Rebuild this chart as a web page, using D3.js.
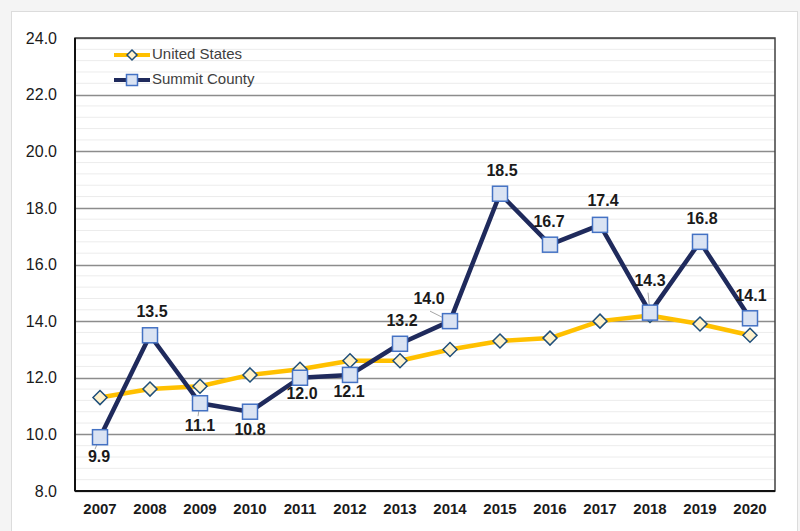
<!DOCTYPE html>
<html>
<head>
<meta charset="utf-8">
<script src="https://cdn.jsdelivr.net/npm/d3@7"></script>
<style>
  body { margin: 0; background: #f4f4f4; }
  svg { display: block; font-family: Arial, "Liberation Sans", sans-serif; }
</style>
</head>
<body>
<svg id="chart" width="800" height="531"></svg>
<script>
const years = ['2007','2008','2009','2010','2011','2012','2013','2014','2015','2016','2017','2018','2019','2020']
const usValues = [11.3, 11.6, 11.7, 12.1, 12.3, 12.6, 12.6, 13.0, 13.3, 13.4, 14.0, 14.2, 13.9, 13.5]
const summitValues = [9.9, 13.5, 11.1, 10.8, 12.0, 12.1, 13.2, 14.0, 18.5, 16.7, 17.4, 14.3, 16.8, 14.1]
const yTicks = [8, 10, 12, 14, 16, 18, 20, 22, 24]
const seriesNames = ['United States', 'Summit County']

// label offsets for summit data labels (dx, dy)
const labelPos = [
  [-1, 21], [2, -23], [0, 24], [0, 19], [2, 17], [-1, 18],
  [2, -22], [-21, -21], [2, -22], [-1, -22], [3, -23],
  [0, -31], [2, -22], [1, -22]
]
// leader lines: index, end offset (dx, dy) from the point
const leaders = [[0, -5, 12], [2, -2, 13], [7, -20, -10], [11, -2, -20]]

const svg = d3.select('#chart')
const margin = {left: 75, right: 25, top: 38, bottom: 40}
const plotW = 775 - margin.left
const plotH = 491 - margin.top

// outer panel
svg.append('rect')
  .attr('x', 11.5).attr('y', 11.5)
  .attr('width', 786).attr('height', 540)
  .attr('fill', '#fff')
  .attr('stroke', '#dcdcdc')

const g = svg.append('g').attr('transform', `translate(${margin.left},${margin.top})`)

const x = d3.scaleBand().domain(years).range([0, plotW])
const y = d3.scaleLinear().domain([8, 24]).range([plotH, 0])

// minor grid
const minor = d3.range(8, 24.001, 0.4).filter(v => Math.abs(v / 2 - Math.round(v / 2)) > 0.01)
g.selectAll('.minor').data(minor).enter().append('line')
  .attr('x1', 0).attr('x2', plotW)
  .attr('y1', d => y(d)).attr('y2', d => y(d))
  .attr('stroke', '#ececec').attr('stroke-width', 1)

// major grid
g.selectAll('.major').data(yTicks).enter().append('line')
  .attr('x1', 0).attr('x2', plotW)
  .attr('y1', d => Math.round(y(d)) + 0.5).attr('y2', d => Math.round(y(d)) + 0.5)
  .attr('stroke', '#8c8c8c').attr('stroke-width', 1.3)

// plot border
g.append('rect')
  .attr('x', 0).attr('y', 0).attr('width', plotW).attr('height', plotH)
  .attr('fill', 'none').attr('stroke', '#404040').attr('stroke-width', 1.5)
g.append('line').attr('x1', 0).attr('x2', plotW).attr('y1', plotH).attr('y2', plotH)
  .attr('stroke', '#111').attr('stroke-width', 2)
g.append('line').attr('x1', 0).attr('x2', 0).attr('y1', 0).attr('y2', plotH)
  .attr('stroke', '#111').attr('stroke-width', 2)

// y axis labels
const yAxis = g.append('g').call(d3.axisLeft(y).tickValues(yTicks).tickFormat(d3.format('.1f')).tickSize(0).tickPadding(18))
yAxis.select('.domain').remove()
yAxis.selectAll('text').attr('font-size', 16).attr('fill', '#1a1a1a').attr('font-family', 'Arial, "Liberation Sans", sans-serif')

// x axis labels
const xAxis = g.append('g').attr('transform', `translate(0,${plotH})`)
  .call(d3.axisBottom(x).tickSize(0).tickPadding(12))
xAxis.select('.domain').remove()
xAxis.selectAll('text').attr('font-size', 15).attr('font-weight', 'bold').attr('fill', '#1a1a1a')
  .attr('font-family', 'Arial, "Liberation Sans", sans-serif')

const cx = i => x(years[i]) + x.bandwidth() / 2
const line = d3.line().x((d, i) => cx(i)).y(d => y(d))

// US line
g.append('path').datum(usValues).attr('d', line)
  .attr('fill', 'none').attr('stroke', '#ffc000').attr('stroke-width', 4.5).attr('stroke-linejoin', 'round')

// Summit line
g.append('path').datum(summitValues).attr('d', line)
  .attr('fill', 'none').attr('stroke', '#1f2a5c').attr('stroke-width', 4.5).attr('stroke-linejoin', 'round')

// US diamonds
const diamond = s => `M0,${-s}L${s},0L0,${s}L${-s},0Z`
g.selectAll('.usm').data(usValues).enter().append('path')
  .attr('d', diamond(7))
  .attr('transform', (d, i) => `translate(${cx(i)},${y(d)})`)
  .attr('fill', '#fff2cc').attr('stroke', '#1f4e79').attr('stroke-width', 1.5)

// leader lines
g.selectAll('.leader').data(leaders).enter().append('line')
  .attr('x1', d => cx(d[0])).attr('y1', d => y(summitValues[d[0]]))
  .attr('x2', d => cx(d[0]) + d[1]).attr('y2', d => y(summitValues[d[0]]) + d[2])
  .attr('stroke', '#a6a6a6').attr('stroke-width', 1)

// Summit squares
g.selectAll('.sm').data(summitValues).enter().append('rect')
  .attr('x', (d, i) => cx(i) - 7.5).attr('y', d => y(d) - 7.5)
  .attr('width', 15).attr('height', 15)
  .attr('fill', '#dae3f3').attr('stroke', '#4472c4').attr('stroke-width', 1.5)

// data labels
g.selectAll('.lbl').data(summitValues).enter().append('text')
  .attr('x', (d, i) => cx(i) + labelPos[i][0])
  .attr('y', (d, i) => y(d) + labelPos[i][1])
  .attr('text-anchor', 'middle').attr('dominant-baseline', 'middle')
  .attr('font-size', 16).attr('font-weight', 'bold').attr('fill', '#1a1a1a')
  .text(d => d.toFixed(1))

// legend
const legend = g.append('g').attr('transform', 'translate(39,17)')
const legItems = legend.selectAll('g').data(seriesNames).enter().append('g')
  .attr('transform', (d, i) => `translate(0,${i * 25})`)
legItems.append('line').attr('x1', 0).attr('x2', 36).attr('y1', 0).attr('y2', 0)
  .attr('stroke', (d, i) => i === 0 ? '#ffc000' : '#1f2a5c').attr('stroke-width', 4)
legItems.filter((d, i) => i === 0).append('path').attr('d', diamond(5))
  .attr('transform', 'translate(18,0)')
  .attr('fill', '#fff2cc').attr('stroke', '#1f4e79').attr('stroke-width', 1.5)
legItems.filter((d, i) => i === 1).append('rect')
  .attr('x', 12.5).attr('y', -5.5).attr('width', 11).attr('height', 11)
  .attr('fill', '#dae3f3').attr('stroke', '#4472c4').attr('stroke-width', 1.5)
legItems.append('text').attr('x', 38).attr('y', 0).attr('dominant-baseline', 'middle')
  .attr('font-size', 15).attr('fill', '#404040').text(d => d)
</script>
</body>
</html>
